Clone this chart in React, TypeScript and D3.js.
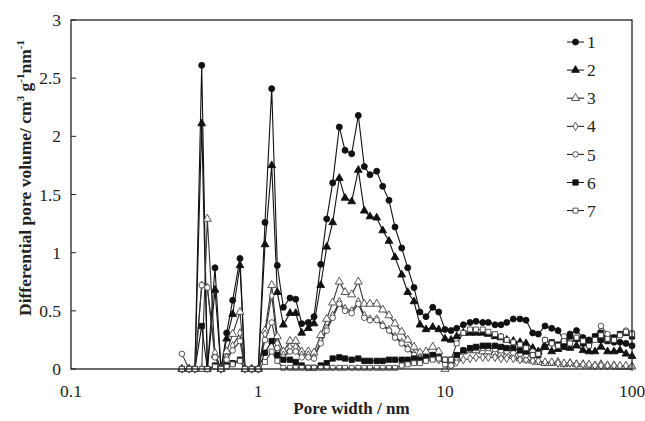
import React from "react";
import * as d3 from "d3";

const poreWidth = [0.392, 0.428, 0.46, 0.5, 0.536, 0.589, 0.634, 0.68, 0.732, 0.801, 0.852, 0.925, 1.004, 1.09, 1.184, 1.268, 1.366, 1.483, 1.591, 1.713, 1.858, 1.993, 2.164, 2.331, 2.508, 2.721, 2.92, 3.17, 3.439, 3.702, 3.97, 4.313, 4.643, 5.018, 5.403, 5.867, 6.318, 6.827, 7.35, 7.914, 8.597, 9.255, 10.0, 10.77, 11.55, 12.53, 13.61, 14.65, 15.91, 17.05, 18.51, 19.93, 21.38, 23.19, 25.18, 27.12, 29.44, 31.54, 34.26, 37.21, 40.21, 43.29, 46.61, 50.49, 54.7, 58.9, 63.41, 68.27, 73.96, 80.12, 86.26, 92.88, 100];

const s1 = [0, 0, 0, 2.61, 0, 0.87, 0, 0.31, 0.59, 0.95, 0, 0, 0, 1.26, 2.41, 0.89, 0.53, 0.61, 0.6, 0.39, 0.4, 0.45, 0.9, 1.29, 1.6, 2.08, 1.88, 1.85, 2.18, 1.74, 1.67, 1.7, 1.57, 1.45, 1.22, 1.04, 0.87, 0.7, 0.49, 0.45, 0.53, 0.49, 0.34, 0.33, 0.35, 0.38, 0.4, 0.41, 0.4, 0.4, 0.38, 0.38, 0.4, 0.43, 0.43, 0.42, 0.31, 0.3, 0.37, 0.35, 0.33, 0.25, 0.3, 0.33, 0.27, 0.25, 0.26, 0.31, 0.27, 0.23, 0.23, 0.22, 0.2];
const s2 = [0, 0, 0, 2.11, 0, 0.68, 0, 0.26, 0.47, 0.89, 0, 0, 0, 1.07, 1.75, 0.66, 0.38, 0.48, 0.48, 0.31, 0.35, 0.39, 0.72, 1.05, 1.26, 1.64, 1.47, 1.44, 1.71, 1.36, 1.31, 1.3, 1.19, 1.1, 0.96, 0.81, 0.66, 0.58, 0.38, 0.34, 0.36, 0.34, 0.26, 0.25, 0.28, 0.31, 0.31, 0.31, 0.31, 0.3, 0.28, 0.27, 0.25, 0.24, 0.23, 0.22, 0.18, 0.15, 0.19, 0.15, 0.17, 0.22, 0.18, 0.2, 0.16, 0.15, 0.15, 0.19, 0.15, 0.15, 0.16, 0.13, 0.11];
const s3 = [0, 0, 0, 0, 1.29, 0.12, 0, 0.15, 0.3, 0.49, 0, 0, 0, 0.33, 0.72, 0.28, 0.15, 0.24, 0.24, 0.15, 0.15, 0.14, 0.29, 0.43, 0.57, 0.75, 0.66, 0.64, 0.75, 0.56, 0.56, 0.56, 0.51, 0.46, 0.39, 0.32, 0.25, 0.19, 0.14, 0.15, 0.19, 0.15, 0.0, 0.04, 0.1, 0.15, 0.16, 0.16, 0.15, 0.15, 0.14, 0.13, 0.12, 0.11, 0.09, 0.08, 0.07, 0.06, 0.05, 0.05, 0.06, 0.04, 0.05, 0.04, 0.04, 0.03, 0.03, 0.04, 0.03, 0.03, 0.02, 0.02, 0.02];
const s4 = [0, 0, 0, 0.72, 0.7, 0.14, 0, 0.1, 0.2, 0.31, 0, 0, 0, 0.3, 0.63, 0.22, 0.12, 0.19, 0.19, 0.12, 0.12, 0.1, 0.24, 0.35, 0.46, 0.58, 0.52, 0.5, 0.58, 0.46, 0.43, 0.43, 0.38, 0.34, 0.28, 0.23, 0.18, 0.13, 0.1, 0.08, 0.1, 0.08, 0.05, 0.04, 0.06, 0.08, 0.09, 0.1, 0.1, 0.1, 0.1, 0.09, 0.09, 0.09, 0.08, 0.08, 0.07, 0.07, 0.06, 0.06, 0.05, 0.05, 0.05, 0.04, 0.04, 0.04, 0.03, 0.03, 0.03, 0.03, 0.03, 0.03, 0.02];
const s5 = [0.13, 0, 0, 0.72, 0.7, 0.1, 0, 0.08, 0.16, 0.24, 0, 0, 0, 0.25, 0.4, 0.18, 0.1, 0.15, 0.15, 0.1, 0.1, 0.09, 0.22, 0.33, 0.44, 0.56, 0.5, 0.48, 0.56, 0.44, 0.42, 0.42, 0.37, 0.33, 0.27, 0.22, 0.17, 0.12, 0.09, 0.1, 0.12, 0.1, 0.04, 0.03, 0.1, 0.15, 0.17, 0.18, 0.18, 0.18, 0.17, 0.16, 0.15, 0.14, 0.13, 0.12, 0.15, 0.12, 0.25, 0.22, 0.2, 0.28, 0.22, 0.26, 0.24, 0.22, 0.28, 0.37, 0.3, 0.27, 0.3, 0.33, 0.31];
const s6 = [0, 0, 0, 0.37, 0, 0.03, 0, 0.03, 0.05, 0.08, 0, 0, 0, 0.14, 0.24, 0.12, 0.08, 0.08, 0.06, 0.03, 0.01, 0.01, 0.03, 0.05, 0.09, 0.1, 0.09, 0.08, 0.09, 0.07, 0.07, 0.07, 0.07, 0.08, 0.08, 0.08, 0.08, 0.09, 0.08, 0.1, 0.12, 0.1, 0.08, 0.08, 0.12, 0.16, 0.18, 0.19, 0.2, 0.2, 0.2, 0.19, 0.18, 0.18, 0.16, 0.15, 0.12, 0.12, 0.19, 0.23, 0.21, 0.19, 0.28, 0.26, 0.22, 0.22, 0.28, 0.25, 0.24, 0.27, 0.3, 0.31, 0.28];
const s7 = [0, 0, 0, 0, 0, 0.02, 0, 0.02, 0.04, 0.07, 0, 0, 0, 0.06, 0.15, 0.07, 0.01, 0.01, 0.01, 0.01, 0.01, 0.01, 0.01, 0.01, 0.01, 0.01, 0.01, 0.01, 0.01, 0.01, 0.01, 0.01, 0.01, 0.01, 0.01, 0.03, 0.04, 0.05, 0.05, 0.07, 0.08, 0.09, 0.08, 0.08, 0.22, 0.31, 0.34, 0.34, 0.34, 0.32, 0.3, 0.28, 0.25, 0.23, 0.21, 0.18, 0.12, 0.13, 0.25, 0.22, 0.2, 0.24, 0.22, 0.27, 0.24, 0.2, 0.25, 0.29, 0.26, 0.25, 0.29, 0.32, 0.3];

const seriesNames = ["1", "2", "3", "4", "5", "6", "7"];
const seriesValues = [s1, s2, s3, s4, s5, s6, s7];
const markerTypes = ["circle", "triangle", "triangle", "diamond", "circle", "square", "square"];
const markerFilled = [true, true, false, false, false, true, false];

const xTicks = [0.1, 1, 10, 100];
const xTickLabels = ["0.1", "1", "10", "100"];
const yTicks = [0, 0.5, 1, 1.5, 2, 2.5, 3];
const yTickLabels = ["0", "0.5", "1", "1.5", "2", "2.5", "3"];

const W = 645, H = 421;
const left = 71, right = 632, top = 20, bottom = 369;

function Marker({ type, filled, x, y }: { type: string; filled: boolean; x: number; y: number }) {
  const fill = filled ? "#111" : "#fff";
  const stroke = filled ? "#111" : "#444";
  const sw = 0.9;
  if (type === "circle") {
    return <circle cx={x} cy={y} r={filled ? 3 : 2.8} fill={fill} stroke={stroke} strokeWidth={sw} />;
  }
  let sym;
  if (type === "triangle") sym = d3.symbol().type(d3.symbolTriangle).size(filled ? 26 : 28)();
  else if (type === "diamond") sym = d3.symbol().type(d3.symbolDiamond).size(20)();
  else sym = d3.symbol().type(d3.symbolSquare).size(filled ? 28 : 24)();
  return <path d={sym || ""} transform={`translate(${x},${y})`} fill={fill} stroke={stroke} strokeWidth={sw} />;
}

export default function App() {
  const x = d3.scaleLog().domain([0.1, 100]).range([left, right]);
  const y = d3.scaleLinear().domain([0, 3]).range([bottom, top]);
  const line = d3
    .line<number>()
    .x((_, i) => x(poreWidth[i]))
    .y((d) => y(d));

  const legendX = 567;
  const legendY0 = 42;
  const legendDy = 28.1;

  return (
    <svg width={W} height={H} style={{ position: "absolute", left: 0, top: 0, background: "#fff" }}
      fontFamily="'Liberation Serif', 'Times New Roman', serif">
      <rect x={0} y={0} width={W} height={H} fill="#fff" />
      {seriesValues.map((vals, si) => (
        <path key={"l" + si} d={line(vals) || ""} fill="none"
          stroke={markerFilled[si] ? "#111" : "#333"} strokeWidth={1.1} />
      ))}
      {seriesValues.map((vals, si) => (
        <g key={"m" + si}>
          {vals.map((v, i) => (
            <Marker key={i} type={markerTypes[si]} filled={markerFilled[si]} x={x(poreWidth[i])} y={y(v)} />
          ))}
        </g>
      ))}
      <rect x={left} y={top} width={right - left} height={bottom - top} fill="none" stroke="#222" strokeWidth={1.3} />
      {yTicks.map((t, i) => (
        <g key={"yt" + i}>
          <line x1={left} x2={left + 5} y1={y(t)} y2={y(t)} stroke="#222" strokeWidth={1} />
          <text x={61} y={y(t)} dy="0.35em" textAnchor="end" fontSize={17.5} fill="#222">{yTickLabels[i]}</text>
        </g>
      ))}
      {xTicks.map((t, i) => (
        <text key={"xt" + i} x={x(t)} y={397} textAnchor="middle" fontSize={17.5} fill="#222">{xTickLabels[i]}</text>
      ))}
      <text x={(left + right) / 2} y={414} textAnchor="middle" fontSize={17} fontWeight="bold" fill="#222">Pore width / nm</text>
      <text transform={`translate(31,178) rotate(-90)`} textAnchor="middle" fontSize={17.5} fontWeight="bold" fill="#222">
        Differential pore volume/ cm<tspan dy={-7} fontSize={11}>3</tspan><tspan dy={7}> g</tspan><tspan dy={-7} fontSize={11}>-1</tspan><tspan dy={7}>nm</tspan><tspan dy={-7} fontSize={11}>-1</tspan>
      </text>
      {seriesNames.map((n, i) => {
        const ly = legendY0 + i * legendDy;
        return (
          <g key={"lg" + i}>
            <line x1={legendX} x2={legendX + 17} y1={ly} y2={ly} stroke="#111" strokeWidth={1} />
            <Marker type={markerTypes[i]} filled={markerFilled[i]} x={legendX + 8.5} y={ly} />
            <text x={legendX + 20} y={ly} dy="0.35em" fontSize={17.5} fill="#222">{n}</text>
          </g>
        );
      })}
    </svg>
  );
}
